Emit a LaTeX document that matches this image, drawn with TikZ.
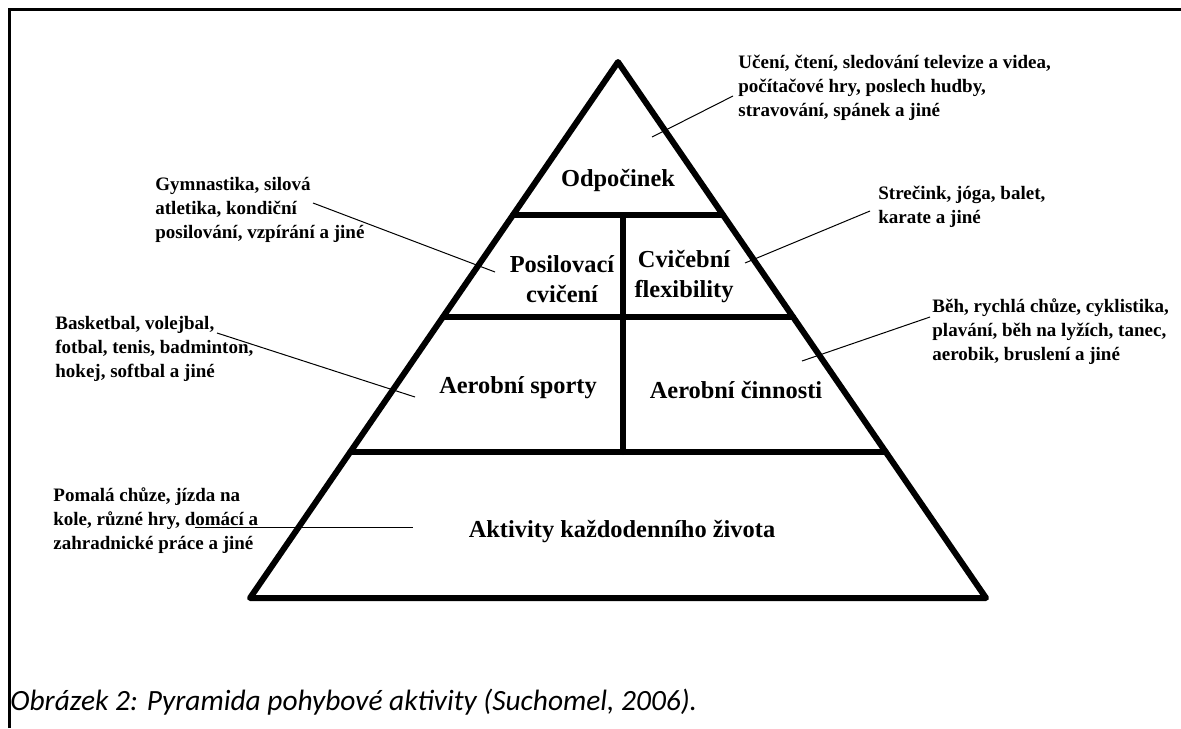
\documentclass[tikz,border=0pt]{standalone}
\usepackage{fontspec}
\setmainfont{Liberation Serif}
\newfontfamily\capfont{Carlito}
\usetikzlibrary{calc}
\begin{document}
\begin{tikzpicture}[x=0.5pt,y=-0.5pt,
  pyr/.style={line width=3pt,line cap=round,line join=round},
  conn/.style={line width=0.5pt},
  side/.style={anchor=north west,align=left,inner sep=0pt,font=\fontsize{9.5}{12}\selectfont\bfseries},
  lvl/.style={align=center,inner sep=0pt,font=\fontsize{12.2}{15}\selectfont\bfseries}]
\useasboundingbox (0,0) rectangle (1181,728);
% frame
\draw[line width=1.5pt] (9.5,728) -- (9.5,9.5) -- (1181,9.5);
% pyramid
\coordinate (apex) at (618,62);
\coordinate (bl) at (250,598);
\coordinate (br) at (986,598);
\draw[pyr] (apex) -- (bl) -- (br) -- cycle;
\coordinate (l1) at ($(apex)!0.2854!(bl)$);
\coordinate (r1) at ($(apex)!0.2854!(br)$);
\coordinate (l2) at ($(apex)!0.4757!(bl)$);
\coordinate (r2) at ($(apex)!0.4757!(br)$);
\coordinate (l3) at ($(apex)!0.7276!(bl)$);
\coordinate (r3) at ($(apex)!0.7276!(br)$);
\draw[pyr] (l1) -- (r1);
\draw[pyr] (l2) -- (r2);
\draw[pyr] (l3) -- (r3);
\coordinate (v1) at (623,215);
\coordinate (v2) at (623,452);
\draw[pyr] (v1) -- (v2);
% level labels
\node[lvl] (odp) at (618,180) {Odpočinek};
\node[lvl] (pos) at (562,279) {Posilovací\\cvičení};
\node[lvl] (flex) at (684,277) {Cvičební\\flexibility};
\node[lvl] (asp) at (518,388) {Aerobní sporty};
\node[lvl] (acin) at (736,390) {Aerobní činnosti};
\node[lvl] (akt) at (622,532) {Aktivity každodenního života};
% side labels
\node[side] (t1) at (738,55) {Učení, čtení, sledování televize a videa,\\počítačové hry, poslech hudby,\\stravování, spánek a jiné};
\node[side] (t2) at (155,177) {Gymnastika, silová\\atletika, kondiční\\posilování, vzpírání a jiné};
\node[side] (t3) at (878,186) {Strečink, jóga, balet,\\karate a jiné};
\node[side] (t4) at (55,316) {Basketbal, volejbal,\\fotbal, tenis, badminton,\\hokej, softbal a jiné};
\node[side] (t5) at (932,298) {Běh, rychlá chůze, cyklistika,\\plavání, běh na lyžích, tanec,\\aerobik, bruslení a jiné};
\node[side] (t6) at (53,487) {Pomalá chůze, jízda na\\kole, různé hry, domácí a\\zahradnické práce a jiné};
% connectors
\coordinate (c1a) at (733,96);
\coordinate (c1b) at (652,137);
\coordinate (c2a) at (313,203);
\coordinate (c2b) at (495,272);
\coordinate (c3a) at (870,211);
\coordinate (c3b) at (745,263);
\coordinate (c4a) at (217,333);
\coordinate (c4b) at (415,397);
\coordinate (c5a) at (930,317);
\coordinate (c5b) at (802,361);
\coordinate (c6a) at (195,527);
\coordinate (c6b) at (413,527);
\draw[conn] (c1a) -- (c1b);
\draw[conn] (c2a) -- (c2b);
\draw[conn] (c3a) -- (c3b);
\draw[conn] (c4a) -- (c4b);
\draw[conn] (c5a) -- (c5b);
\draw[conn] (c6a) -- (c6b);
% caption
\node[anchor=west,inner sep=0pt,font=\capfont\itshape\fontsize{14.7}{17}\selectfont] (cap) at (10,702) {Obrázek 2: Pyramida pohybové aktivity (Suchomel, 2006).};
\end{tikzpicture}
\end{document}
